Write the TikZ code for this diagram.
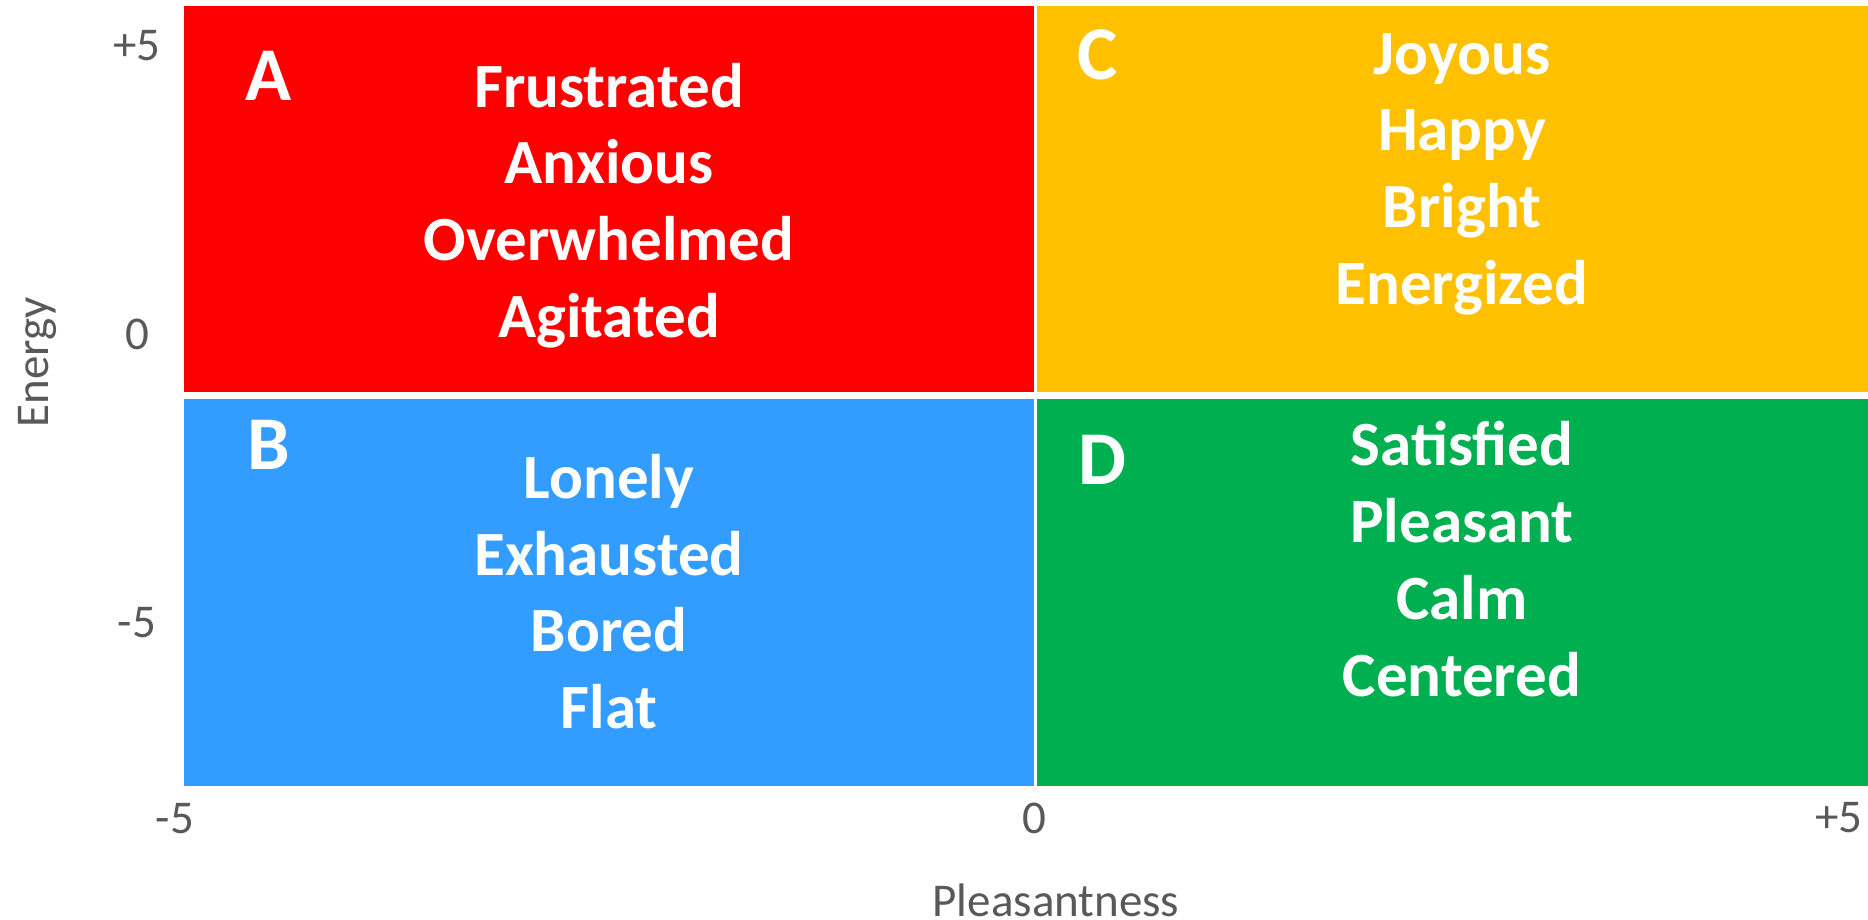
\documentclass[tikz,border=0pt]{standalone}
\usepackage{fontspec}
\setmainfont{Carlito}
\definecolor{qred}{HTML}{FF0000}
\definecolor{qyellow}{HTML}{FFC000}
\definecolor{qblue}{HTML}{339CFF}
\definecolor{qgreen}{HTML}{00AF50}
\definecolor{axisgray}{HTML}{595959}
\tikzset{
  quad/.style={draw=none, inner sep=0pt, outer sep=0pt, anchor=center},
  word/.style={text=white, inner sep=0pt, anchor=base, font=\fontsize{63}{76}\selectfont\bfseries},
  letter/.style={text=white, inner sep=0pt, anchor=base, font=\fontsize{76}{90}\selectfont\bfseries},
  axlabel/.style={text=axisgray, inner sep=0pt, anchor=base, font=\fontsize{47}{56}\selectfont},
}
\begin{document}
\begin{tikzpicture}[x=1pt, y=-1pt]
\useasboundingbox[fill=white] (0,0) rectangle (1868,920);
% quadrants
\node[quad, fill=qred,    minimum width=850pt, minimum height=386pt] (qa) at (609,199) {};
\node[quad, fill=qyellow, minimum width=831pt, minimum height=386pt] (qc) at (1452.5,199) {};
\node[quad, fill=qblue,   minimum width=850pt, minimum height=387pt] (qb) at (609,592.5) {};
\node[quad, fill=qgreen,  minimum width=831pt, minimum height=387pt] (qd) at (1452.5,592.5) {};
% letters
\node[letter] (la) at (269,101) {A};
\node[letter] (lb) at (269,469) {B};
\node[letter] (lc) at (1098,80) {C};
\node[letter] (ld) at (1102,484) {D};
% A words
\node[word] (a1) at (609,107.3) {Frustrated};
\node[word] (a2) at (609,184) {Anxious};
\node[word] (a3) at (609,260.7) {Overwhelmed};
\node[word] (a4) at (609,337.3) {Agitated};
% B words
\node[word] (b1) at (609,498.7) {Lonely};
\node[word] (b2) at (609,575) {Exhausted};
\node[word] (b3) at (609,651.7) {Bored};
\node[word] (b4) at (609,728) {Flat};
% C words
\node[word] (c1) at (1462,74.3) {Joyous};
\node[word] (c2) at (1462,151) {Happy};
\node[word] (c3) at (1462,227.7) {Bright};
\node[word] (c4) at (1462,304.3) {Energized};
% D words
\node[word] (d1) at (1462,465.7) {Satisfied};
\node[word] (d2) at (1462,542.7) {Pleasant};
\node[word] (d3) at (1462,619) {Calm};
\node[word] (d4) at (1462,696) {Centered};
% axis labels
\node[axlabel] (yp5) at (137,61) {+5};
\node[axlabel] (y0) at (137,349) {0};
\node[axlabel] (ym5) at (137,637) {-5};
\node[axlabel] (xm5) at (175,833) {-5};
\node[axlabel] (x0) at (1034,833) {0};
\node[axlabel] (xp5) at (1839,832) {+5};
\node[axlabel] (xt) at (1056,916) {Pleasantness};
\node[axlabel, rotate=90] (yt) at (48,362) {Energy};
\end{tikzpicture}
\end{document}
